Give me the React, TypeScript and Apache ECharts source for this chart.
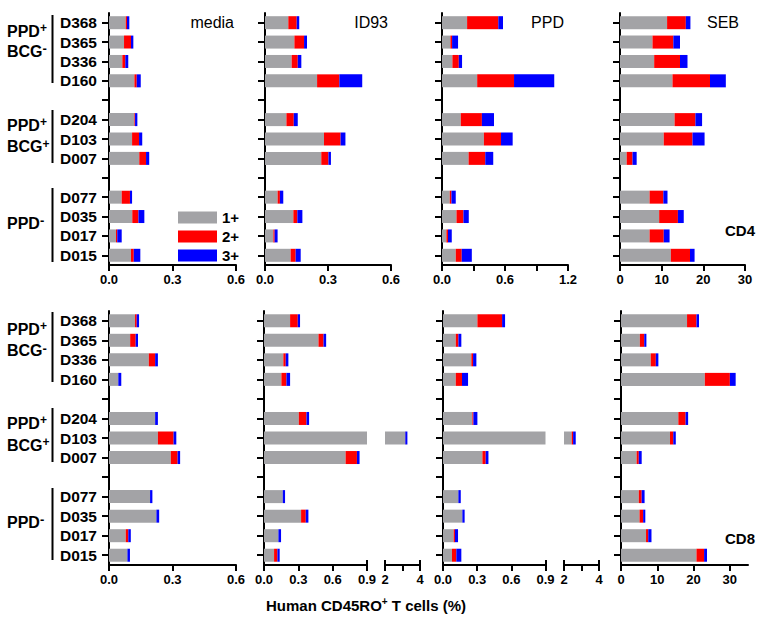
import React, { useEffect, useRef } from 'react';
import * as echarts from 'echarts';

const categories = ['D368', 'D365', 'D336', 'D160', '', 'D204', 'D103', 'D007', ' ', 'D077', 'D035', 'D017', 'D015'];
const seriesNames = ['1+', '2+', '3+'];
const seriesColors = ['#a3a3a6', '#ff0000', '#0000ff'];

// CD4 panels
const cd4Media1 = [0.079, 0.071, 0.063, 0.120, null, 0.120, 0.109, 0.143, null, 0.060, 0.110, 0.033, 0.104];
const cd4Media2 = [0.006, 0.033, 0.014, 0.011, null, 0.003, 0.033, 0.032, null, 0.039, 0.029, 0.006, 0.013];
const cd4Media3 = [0.011, 0.011, 0.014, 0.019, null, 0.011, 0.015, 0.015, null, 0.010, 0.028, 0.021, 0.031];

const cd4Id931 = [0.111, 0.140, 0.127, 0.248, null, 0.102, 0.281, 0.268, null, 0.060, 0.135, 0.040, 0.122];
const cd4Id932 = [0.040, 0.046, 0.029, 0.106, null, 0.035, 0.079, 0.034, null, 0.011, 0.019, 0.006, 0.024];
const cd4Id933 = [0.012, 0.014, 0.017, 0.109, null, 0.019, 0.023, 0.012, null, 0.016, 0.024, 0.014, 0.024];

const cd4Ppd1 = [0.239, 0.080, 0.099, 0.335, null, 0.179, 0.399, 0.253, null, 0.074, 0.138, 0.042, 0.131];
const cd4Ppd2 = [0.297, 0.016, 0.061, 0.351, null, 0.201, 0.163, 0.159, null, 0.016, 0.066, 0.015, 0.057];
const cd4Ppd3 = [0.045, 0.057, 0.031, 0.383, null, 0.115, 0.111, 0.076, null, 0.041, 0.051, 0.036, 0.096];

const cd4Seb1 = [11.3, 7.8, 8.2, 12.6, null, 13.1, 10.5, 1.6, null, 7.1, 9.4, 7.1, 12.2];
const cd4Seb2 = [4.5, 5.0, 6.2, 9.0, null, 5.0, 6.9, 1.4, null, 3.3, 4.5, 3.4, 4.6];
const cd4Seb3 = [1.1, 1.6, 1.8, 3.8, null, 1.6, 2.9, 1.0, null, 1.0, 1.4, 1.4, 1.1];

// CD8 panels
const cd8Media1 = [0.123, 0.100, 0.188, 0.044, null, 0.218, 0.231, 0.292, null, 0.194, 0.224, 0.079, 0.087];
const cd8Media2 = [0.008, 0.026, 0.030, 0, null, 0, 0.074, 0.032, null, 0, 0, 0.012, 0];
const cd8Media3 = [0.011, 0.011, 0.013, 0.014, null, 0.013, 0.013, 0.012, null, 0.011, 0.013, 0.012, 0.012];

const cd8Id931 = [0.228, 0.476, 0.169, 0.152, null, 0.304, 3.15, 0.713, null, 0.164, 0.324, 0.126, 0.088];
const cd8Id932 = [0.067, 0.044, 0.021, 0.044, null, 0.067, 0.01, 0.099, null, 0, 0.041, 0, 0.029];
const cd8Id933 = [0.020, 0.023, 0.023, 0.032, null, 0.023, 0.12, 0.023, null, 0.020, 0.023, 0.023, 0.020];

const cd8Ppd1 = [0.302, 0.112, 0.249, 0.112, null, 0.258, 2.44, 0.346, null, 0.135, 0.170, 0.094, 0.079];
const cd8Ppd2 = [0.217, 0.023, 0.015, 0.055, null, 0.009, 0.08, 0.029, null, 0, 0, 0.011, 0.038];
const cd8Ppd3 = [0.026, 0.026, 0.029, 0.053, null, 0.035, 0.15, 0.024, null, 0.021, 0.020, 0.027, 0.044];

const cd8Seb1 = [18.2, 5.2, 8.2, 23.1, null, 15.8, 13.5, 4.3, null, 4.9, 5.1, 6.9, 20.8];
const cd8Seb2 = [2.6, 1.2, 1.4, 6.9, null, 2.0, 0.9, 0.6, null, 0.8, 1.0, 0.6, 2.1];
const cd8Seb3 = [0.7, 0.6, 0.7, 1.6, null, 0.7, 0.7, 0.8, null, 0.8, 0.6, 0.9, 0.8];

// tick / label values
const ticksFrac06 = [0, 0.3, 0.6];
const ticksFrac12 = [0, 0.3, 0.6, 0.9, 1.2];
const labelsFrac12 = [0, 0.6, 1.2];
const ticksFrac09 = [0, 0.3, 0.6, 0.9];
const ticksSeb = [0, 10, 20, 30];
const ticksBreak = [2, 3, 4];
const labelsBreak = [2, 4];

const FONT = '"Liberation Sans", Arial, Helvetica, sans-serif';

type Panel = {
  left: number; top: number; width: number; height: number;
  min: number; max: number; ticks: number[]; labels: number[]; dec: number;
  data: (number | null)[][]; yLabels: boolean; yShow: boolean; caps?: number[];
};

const TOP1 = 13, H1 = 252, TOP2 = 311, H2 = 254;

const panels: Panel[] = [
  { left: 109, top: TOP1, width: 127, height: H1, min: 0, max: 0.6, ticks: ticksFrac06, labels: ticksFrac06, dec: 1, data: [cd4Media1, cd4Media2, cd4Media3], yLabels: true, yShow: true },
  { left: 265, top: TOP1, width: 126, height: H1, min: 0, max: 0.6, ticks: ticksFrac06, labels: ticksFrac06, dec: 1, data: [cd4Id931, cd4Id932, cd4Id933], yLabels: false, yShow: true },
  { left: 442, top: TOP1, width: 126, height: H1, min: 0, max: 1.2, ticks: ticksFrac12, labels: labelsFrac12, dec: 1, data: [cd4Ppd1, cd4Ppd2, cd4Ppd3], yLabels: false, yShow: true },
  { left: 620, top: TOP1, width: 125, height: H1, min: 0, max: 30, ticks: ticksSeb, labels: ticksSeb, dec: 0, data: [cd4Seb1, cd4Seb2, cd4Seb3], yLabels: false, yShow: true },
  { left: 109, top: TOP2, width: 127, height: H2, min: 0, max: 0.6, ticks: ticksFrac06, labels: ticksFrac06, dec: 1, data: [cd8Media1, cd8Media2, cd8Media3], yLabels: true, yShow: true },
  { left: 264, top: TOP2, width: 103, height: H2, min: 0, max: 0.9, ticks: ticksFrac09, labels: ticksFrac09, dec: 1, data: [cd8Id931, cd8Id932, cd8Id933], yLabels: false, yShow: true, caps: [0.9] },
  { left: 385, top: TOP2, width: 35, height: H2, min: 2, max: 4, ticks: ticksBreak, labels: labelsBreak, dec: 0, data: [cd8Id931, cd8Id932, cd8Id933], yLabels: false, yShow: false, caps: [2, 4] },
  { left: 443, top: TOP2, width: 102.5, height: H2, min: 0, max: 0.9, ticks: ticksFrac09, labels: ticksFrac09, dec: 1, data: [cd8Ppd1, cd8Ppd2, cd8Ppd3], yLabels: false, yShow: true, caps: [0.9] },
  { left: 564, top: TOP2, width: 35, height: H2, min: 2, max: 4, ticks: ticksBreak, labels: labelsBreak, dec: 0, data: [cd8Ppd1, cd8Ppd2, cd8Ppd3], yLabels: false, yShow: false, caps: [2, 4] },
  { left: 621, top: TOP2, width: 127, height: H2, min: 0, max: 35, ticks: ticksSeb, labels: ticksSeb, dec: 0, data: [cd8Seb1, cd8Seb2, cd8Seb3], yLabels: false, yShow: true },
];

const panelTitles = [
  { text: 'media', x: 234, y: 22 },
  { text: 'ID93', x: 388, y: 22 },
  { text: 'PPD', x: 564, y: 22 },
  { text: 'SEB', x: 739, y: 22 },
];

const cellLabels = [
  { text: 'CD4', x: 755, y: 230 },
  { text: 'CD8', x: 755, y: 538 },
];

const groupRich = {
  m: { fontSize: 16, fontWeight: 'bold', fontFamily: FONT, lineHeight: 18, color: '#000' },
  p: { fontSize: 12, fontWeight: 'bold', fontFamily: FONT, lineHeight: 12, verticalAlign: 'top', color: '#000' },
  n: { fontSize: 13, fontWeight: 'bold', fontFamily: FONT, lineHeight: 4, verticalAlign: 'top', color: '#000' },
};

const groupTexts = [
  { text: '{m|PPD}{p|+}', y: 31 },
  { text: '{m|BCG}{n|-}', y: 51 },
  { text: '{m|PPD}{p|+}', y: 125 },
  { text: '{m|BCG}{p|+}', y: 146.5 },
  { text: '{m|PPD}{n|-}', y: 223 },
  { text: '{m|PPD}{p|+}', y: 329 },
  { text: '{m|BCG}{n|-}', y: 350.5 },
  { text: '{m|PPD}{p|+}', y: 423 },
  { text: '{m|BCG}{p|+}', y: 445 },
  { text: '{m|PPD}{n|-}', y: 522 },
];

const groupLines = [
  [15, 83], [110, 163], [188, 262],
  [312, 382], [408, 462], [488, 560],
];

function buildOption() {
  const grid = panels.map((p) => ({ left: p.left, top: p.top, width: p.width, height: p.height, containLabel: false }));
  const xAxis: any[] = panels.map((p, i) => ({
    type: 'value',
    gridIndex: i,
    min: p.min,
    max: p.max,
    position: 'bottom',
    axisLine: { show: true, lineStyle: { color: '#000', width: 2 } },
    axisTick: { show: true, length: 6, customValues: p.ticks, lineStyle: { color: '#000', width: 2 } },
    axisLabel: {
      customValues: p.labels,
      fontSize: 13,
      fontWeight: 'bold',
      fontFamily: FONT,
      color: '#000',
      margin: 8,
      formatter: (v: number) => (p.dec ? v.toFixed(p.dec) : String(Math.round(v))),
    },
    splitLine: { show: false },
  }));
  panels.forEach((p, i) => {
    if (p.caps) {
      xAxis.push({
        type: 'value',
        gridIndex: i,
        min: p.min,
        max: p.max,
        position: 'bottom',
        axisLine: { show: false },
        axisTick: { show: true, inside: true, length: 5, customValues: p.caps, lineStyle: { color: '#000', width: 2 } },
        axisLabel: { show: false },
        splitLine: { show: false },
      });
    }
  });
  const yAxis = panels.map((p, i) => ({
    type: 'category',
    gridIndex: i,
    data: categories,
    inverse: true,
    show: p.yShow,
    axisLine: { show: true, lineStyle: { color: '#000', width: 2 } },
    axisTick: { show: true, alignWithLabel: true, interval: 0, length: 7, lineStyle: { color: '#000', width: 2 } },
    axisLabel: {
      show: p.yLabels,
      interval: 0,
      fontSize: 15.5,
      fontWeight: 'bold',
      fontFamily: FONT,
      color: '#000',
      margin: 12,
    },
    splitLine: { show: false },
  }));
  const series: any[] = [];
  panels.forEach((p, i) => {
    for (let k = 0; k < 3; k++) {
      series.push({
        type: 'bar',
        name: seriesNames[k],
        xAxisIndex: i,
        yAxisIndex: i,
        stack: 'st' + i,
        data: p.data[k],
        barWidth: 13,
        clip: true,
        silent: true,
        itemStyle: { color: seriesColors[k] },
      });
    }
  });

  const graphic: any[] = [];
  panelTitles.forEach((t) => {
    graphic.push({
      type: 'text', x: t.x, y: t.y, silent: true,
      style: { text: t.text, fontSize: 16, fontFamily: FONT, fill: '#000', align: 'right', verticalAlign: 'middle', textAlign: 'right', textVerticalAlign: 'middle' },
    });
  });
  cellLabels.forEach((t) => {
    graphic.push({
      type: 'text', x: t.x, y: t.y, silent: true,
      style: { text: t.text, fontSize: 15, fontWeight: 'bold', fontFamily: FONT, fill: '#000', align: 'right', verticalAlign: 'middle', textAlign: 'right', textVerticalAlign: 'middle' },
    });
  });
  groupTexts.forEach((t) => {
    graphic.push({
      type: 'text', x: 7, y: t.y, silent: true,
      style: { text: t.text, rich: groupRich, fill: '#000', align: 'left', verticalAlign: 'middle', textAlign: 'left', textVerticalAlign: 'middle' },
    });
  });
  groupLines.forEach(([y1, y2]) => {
    graphic.push({
      type: 'line', silent: true,
      shape: { x1: 52.5, y1, x2: 52.5, y2 },
      style: { stroke: '#000', lineWidth: 2 },
    });
  });
  graphic.push({
    type: 'text', x: 366, y: 605, silent: true,
    style: {
      text: '{a|Human CD45RO}{s|+}{a| T cells (%)}',
      rich: {
        a: { fontSize: 15, fontWeight: 'bold', fontFamily: FONT, lineHeight: 18, color: '#000' },
        s: { fontSize: 10, fontWeight: 'bold', fontFamily: FONT, lineHeight: 10, verticalAlign: 'top', color: '#000' },
      },
      fill: '#000', align: 'center', verticalAlign: 'middle', textAlign: 'center', textVerticalAlign: 'middle',
    },
  });

  return {
    animation: false,
    backgroundColor: '#fff',
    grid,
    xAxis,
    yAxis,
    series,
    legend: {
      data: seriesNames,
      orient: 'vertical',
      left: 178,
      top: 210,
      itemWidth: 39,
      itemHeight: 12,
      itemGap: 4,
      icon: 'rect',
      padding: 0,
      selectedMode: false,
      textStyle: { fontSize: 15, fontWeight: 'bold', fontFamily: FONT, color: '#000' },
    },
    graphic,
  };
}

export default function App() {
  const ref = useRef<HTMLDivElement>(null);
  useEffect(() => {
    const chart = echarts.init(ref.current!, undefined, { renderer: 'svg' });
    chart.setOption(buildOption() as any);
    return () => chart.dispose();
  }, []);
  return <div ref={ref} style={{ position: 'absolute', left: 0, top: 0, width: 762, height: 622 }} />;
}
